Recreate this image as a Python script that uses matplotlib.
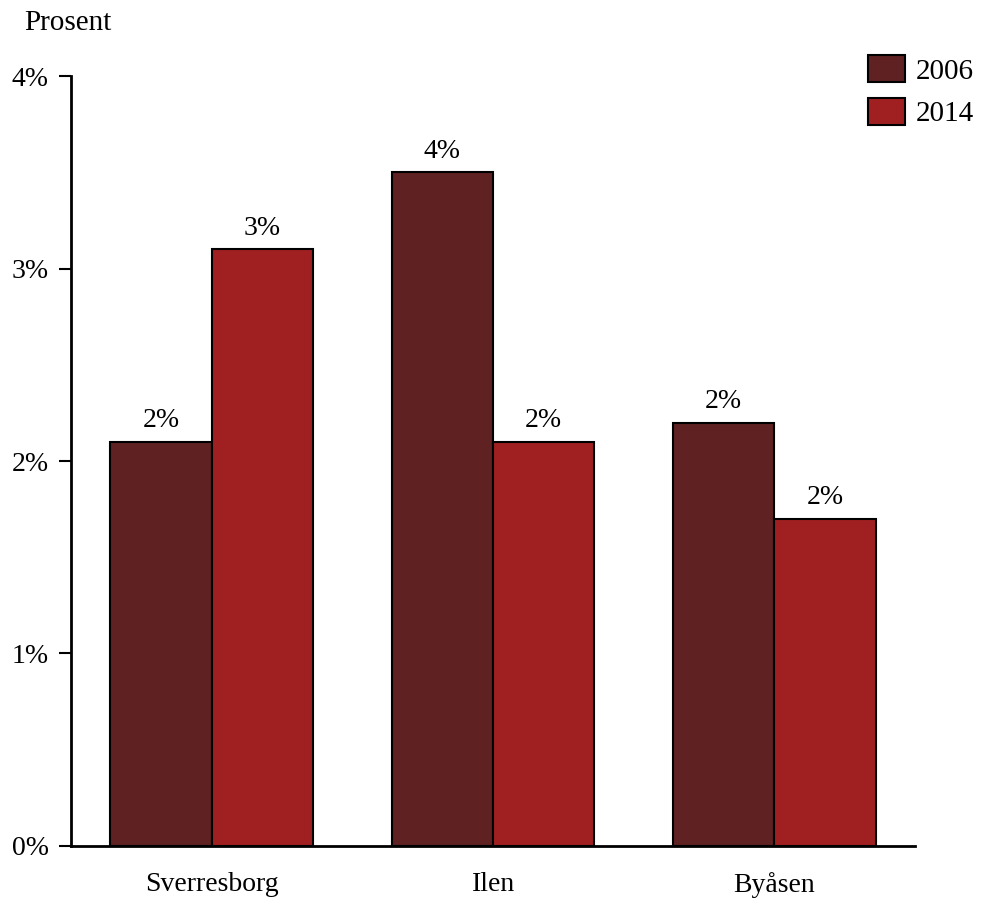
import numpy as np
import matplotlib.pyplot as plt

plt.rcParams['font.family'] = ['Liberation Serif', 'DejaVu Serif']

categories = ['Sverresborg', 'Ilen', 'Byåsen']
years = ['2006', '2014']
values_2006 = [2.1, 3.5, 2.2]
values_2014 = [3.1, 2.1, 1.7]
colors = ['#5f2121', '#a02022']

fig = plt.figure(figsize=(9.84, 9.02), dpi=100)
ax = fig.add_axes([0.0722, 0.0621, 0.8578, 0.8536])

x = np.arange(len(categories))
w = 0.36
for i, (vals, yr) in enumerate(zip([values_2006, values_2014], years)):
    pos = x + (i - 0.5) * w
    bars = ax.bar(pos, vals, width=w, color=colors[i], edgecolor='black',
                  linewidth=1.5, label=yr, zorder=2)
    for b, v in zip(bars, vals):
        ax.text(b.get_x() + b.get_width() / 2, v + 0.045, f'{round(v):.0f}%',
                ha='center', va='bottom', fontsize=20)

ax.set_xlim(-0.5, 2.5)
ax.set_ylim(0, 4)
ax.set_yticks([0, 1, 2, 3, 4])
ax.set_yticklabels([f'{t}%' for t in range(5)])
ax.set_xticks(x)
ax.set_xticklabels(categories)
ax.tick_params(axis='y', length=9, width=1.5, labelsize=20, pad=7)
ax.tick_params(axis='x', length=0, labelsize=20, pad=19)
for s in ['top', 'right']:
    ax.spines[s].set_visible(False)
ax.spines['left'].set_linewidth(2)
ax.spines['bottom'].set_linewidth(2)

fig.text(0.025, 0.975, 'Prosent', fontsize=21, ha='left', va='center')

leg = ax.legend(loc='upper left', bbox_to_anchor=(0.944, 1.027), frameon=False,
                fontsize=21, handlelength=1.28, handleheight=1.05,
                handletextpad=0.35, labelspacing=0.45, borderaxespad=0,
                borderpad=0)

fig.savefig('out.png', dpi=100)
